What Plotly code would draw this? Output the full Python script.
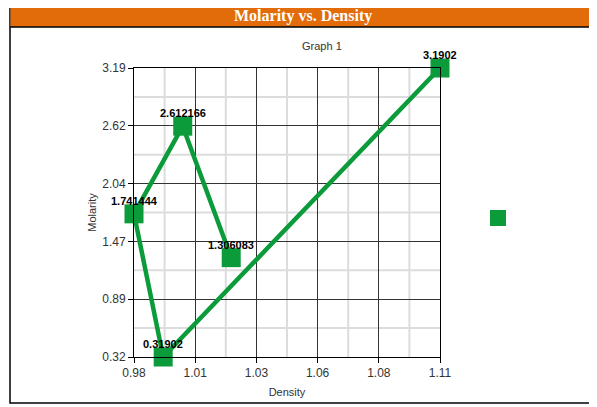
import plotly.graph_objs as go

# data (line order as drawn)
density = [1.11, 0.9924, 0.98, 1.0007, 1.0213]
molarity = [3.1902, 0.31902, 1.741444, 2.612166, 1.306083]
point_labels = ["3.1902", "0.31902", "1.741444", "2.612166", "1.306083"]

x_ticks = [0.98, 1.006, 1.032, 1.058, 1.084, 1.11]
x_tick_text = ["0.98", "1.01", "1.03", "1.06", "1.08", "1.11"]
y_ticks = [0.31902, 0.89326, 1.4675, 2.04174, 2.61598, 3.1902]
y_tick_text = ["0.32", "0.89", "1.47", "2.04", "2.62", "3.19"]

# light grid lines sit half way between the labelled ones
x_minor = [(a + b) / 2 for a, b in zip(x_ticks[:-1], x_ticks[1:])]
y_minor = [(a + b) / 2 for a, b in zip(y_ticks[:-1], y_ticks[1:])]

W, H = 597, 407
OFF = 8  # the page body adds an 8px margin
L, R, T, B = 134 - OFF, 440 - OFF, 68 - OFF, 357 - OFF  # plot area in figure pixels

GREEN = "#0c9b3a"
ORANGE = "#e36c0a"
MINOR = "#dcdcdc"


def px(x):
    # screen pixel -> paper x
    return (x - OFF - L) / (R - L)


def py(y):
    # screen pixel -> paper y
    return (B - (y - OFF)) / (B - T)


fig = go.Figure()
fig.add_trace(go.Scatter(
    x=density, y=molarity,
    mode="lines+markers",
    line=dict(color=GREEN, width=4.5),
    marker=dict(symbol="square", size=19, color=GREEN),
    cliponaxis=False,
    showlegend=False,
))
# legend swatch
fig.add_trace(go.Scatter(
    x=[None], y=[None], mode="markers", name=" ",
    marker=dict(symbol="square", size=19, color=GREEN),
    showlegend=True,
))

# point labels sit just over each marker
label_font = dict(family="Arial, Liberation Sans", size=11, color="black")
annotations = [
    dict(x=xv, y=yv, xref="x", yref="y", text="<b>%s</b>" % t, showarrow=False,
         xanchor="center", yanchor="middle", yshift=13, font=label_font)
    for xv, yv, t in zip(density, molarity, point_labels)
]
annotations += [
    dict(text="<b>Molarity vs. Density</b>", xref="paper", yref="paper",
         x=px(303), y=py(16), showarrow=False, xanchor="center", yanchor="middle",
         font=dict(family="Liberation Serif, Times New Roman", size=16, color="white")),
    dict(text="Graph 1", xref="paper", yref="paper",
         x=px(321.5), y=py(46), showarrow=False, xanchor="center", yanchor="middle",
         font=dict(family="Arial, Liberation Sans", size=11, color="#333")),
]

shapes = [
    dict(type="rect", xref="paper", yref="paper",
         x0=px(10), x1=px(593), y0=py(403), y1=py(3.5),
         line=dict(color="black", width=1.5), fillcolor="rgba(0,0,0,0)", layer="below"),
    dict(type="rect", xref="paper", yref="paper",
         x0=px(10.5), x1=px(592.5), y0=py(27), y1=py(4),
         line=dict(width=0), fillcolor=ORANGE, layer="below"),
    dict(type="line", xref="paper", yref="paper",
         x0=px(10), x1=px(593), y0=py(27), y1=py(27),
         line=dict(color="black", width=1.5)),
]
shapes += [dict(type="line", xref="x", yref="paper", x0=v, x1=v, y0=0, y1=1,
                line=dict(color=MINOR, width=2), layer="below") for v in x_minor]
shapes += [dict(type="line", xref="paper", yref="y", x0=0, x1=1, y0=v, y1=v,
                line=dict(color=MINOR, width=2), layer="below") for v in y_minor]

axis_font = dict(family="Arial, Liberation Sans", size=11, color="#333")
tick_font = dict(family="Arial, Liberation Sans", size=12, color="#333")
fig.update_layout(
    width=W, height=H,
    margin=dict(l=L, r=W - R, t=T, b=H - B),
    paper_bgcolor="white", plot_bgcolor="white",
    font=axis_font,
    xaxis=dict(
        range=[0.98, 1.11], tickmode="array", tickvals=x_ticks, ticktext=x_tick_text,
        tickfont=tick_font,
        showgrid=True, gridcolor="#333", gridwidth=1,
        showline=True, linecolor="black", linewidth=1, mirror=True,
        ticks="outside", ticklen=5, tickcolor="black",
        title=dict(text="Density", font=axis_font, standoff=8),
        zeroline=False,
    ),
    yaxis=dict(
        range=[0.31902, 3.1902], tickmode="array", tickvals=y_ticks, ticktext=y_tick_text,
        tickfont=tick_font,
        showgrid=True, gridcolor="#333", gridwidth=1,
        showline=True, linecolor="black", linewidth=1, mirror=True,
        ticks="outside", ticklen=5, tickcolor="black",
        title=dict(text="Molarity", font=axis_font, standoff=3),
        zeroline=False,
    ),
    legend=dict(x=px(478), y=py(218), xanchor="left", yanchor="middle",
                bgcolor="rgba(0,0,0,0)", font=dict(size=11)),
    shapes=shapes,
    annotations=annotations,
)

fig.write_html("out.html")
